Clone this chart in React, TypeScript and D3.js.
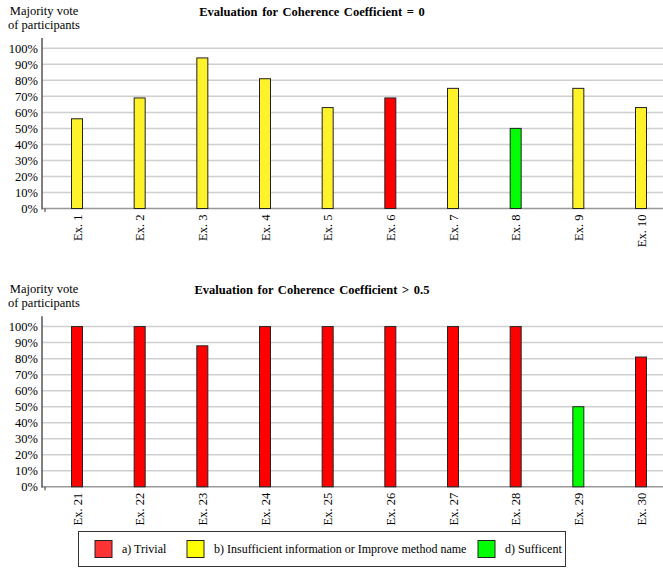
import React from "react";
import * as d3 from "d3";

const topCategories = ["Ex. 1", "Ex. 2", "Ex. 3", "Ex. 4", "Ex. 5", "Ex. 6", "Ex. 7", "Ex. 8", "Ex. 9", "Ex. 10"];
const topValues = [56, 69, 94, 81, 63, 69, 75, 50, 75, 63];
const topClasses = ["b", "b", "b", "b", "b", "a", "b", "d", "b", "b"];

const bottomCategories = ["Ex. 21", "Ex. 22", "Ex. 23", "Ex. 24", "Ex. 25", "Ex. 26", "Ex. 27", "Ex. 28", "Ex. 29", "Ex. 30"];
const bottomValues = [100, 100, 88, 100, 100, 100, 100, 100, 50, 81];
const bottomClasses = ["a", "a", "a", "a", "a", "a", "a", "a", "d", "a"];

const yTicks = [0, 10, 20, 30, 40, 50, 60, 70, 80, 90, 100];
const legendKeys = ["a", "b", "d"];
const legendLabels = ["a) Trivial", "b) Insufficient information or Improve method name", "d) Sufficent"];

const barColors: Record<string, string> = { a: "#ff0000", b: "#fff22a", d: "#00ff00" };
const legendColors: Record<string, string> = { a: "#ff3333", b: "#ffff00", d: "#00ff00" };

const FONT = "Liberation Serif, Times New Roman, DejaVu Serif, serif";

function Panel({ top, title, categories, values, classes }: { top: number; title: string; categories: string[]; values: number[]; classes: string[] }) {
  const y0 = top + 208.5;
  const y100 = top + 48.3;
  const y = d3.scaleLinear().domain([0, 100]).range([y0, y100]);
  const x = d3.scalePoint<string>().domain(categories).range([77, 641]);
  const barW = 11;
  return (
    <g>
      <text x={44} y={top + 15} textAnchor="middle" fontSize={12.5}>Majority vote</text>
      <text x={44} y={top + 29} textAnchor="middle" fontSize={12.5}>of participants</text>
      <text x={312} y={top + 16} textAnchor="middle" fontSize={12.5} fontWeight="bold" wordSpacing={1.5}>{title}</text>
      {yTicks.filter((t) => t > 0).map((t) => (
        <line key={t} x1={42} x2={663} y1={y(t)} y2={y(t)} stroke="#d0d0d0" strokeWidth={1.5} />
      ))}
      {yTicks.map((t) => (
        <text key={t} x={38} y={y(t) + 4.5} textAnchor="end" fontSize={12.5}>{t}%</text>
      ))}
      <line x1={42} x2={663} y1={y0} y2={y0} stroke="#999" strokeWidth={1.5} />
      <line x1={42} x2={42} y1={top + 38} y2={y0 + 1} stroke="#555" strokeWidth={1.5} />
      <line x1={45} x2={45} y1={y0} y2={y0 + 3.5} stroke="#333" strokeWidth={1} />
      {categories.map((c, i) => (
        <rect key={c} x={(x(c) as number) - barW / 2} y={y(values[i])} width={barW} height={y0 - y(values[i])}
          fill={barColors[classes[i]]} stroke="#222" strokeWidth={1} />
      ))}
      {categories.map((c) => (
        <text key={c} transform={`translate(${(x(c) as number) + 4.5},${y0 + 6}) rotate(-90)`} textAnchor="end"
          fontSize={12.5}>{c}</text>
      ))}
    </g>
  );
}

export default function App() {
  const legendX = [95, 187, 478];
  return (
    <svg width={663} height={568} style={{ position: "absolute", left: 0, top: 0, background: "#fff", fontFamily: FONT }}>
      <rect x={0} y={0} width={663} height={568} fill="#fff" />
      <Panel top={0} title="Evaluation for Coherence Coefficient = 0" categories={topCategories} values={topValues} classes={topClasses} />
      <Panel top={278.3} title="Evaluation for Coherence Coefficient > 0.5" categories={bottomCategories} values={bottomValues} classes={bottomClasses} />
      <rect x={78.5} y={531.5} width={487} height={35} fill="#fff" stroke="#333" strokeWidth={1} />
      {legendKeys.map((k, i) => (
        <g key={k}>
          <rect x={legendX[i]} y={540.5} width={17} height={17} fill={legendColors[k]} stroke="#222" strokeWidth={1} />
          <text x={legendX[i] + 27} y={553} fontSize={12}>{legendLabels[i]}</text>
        </g>
      ))}
    </svg>
  );
}
